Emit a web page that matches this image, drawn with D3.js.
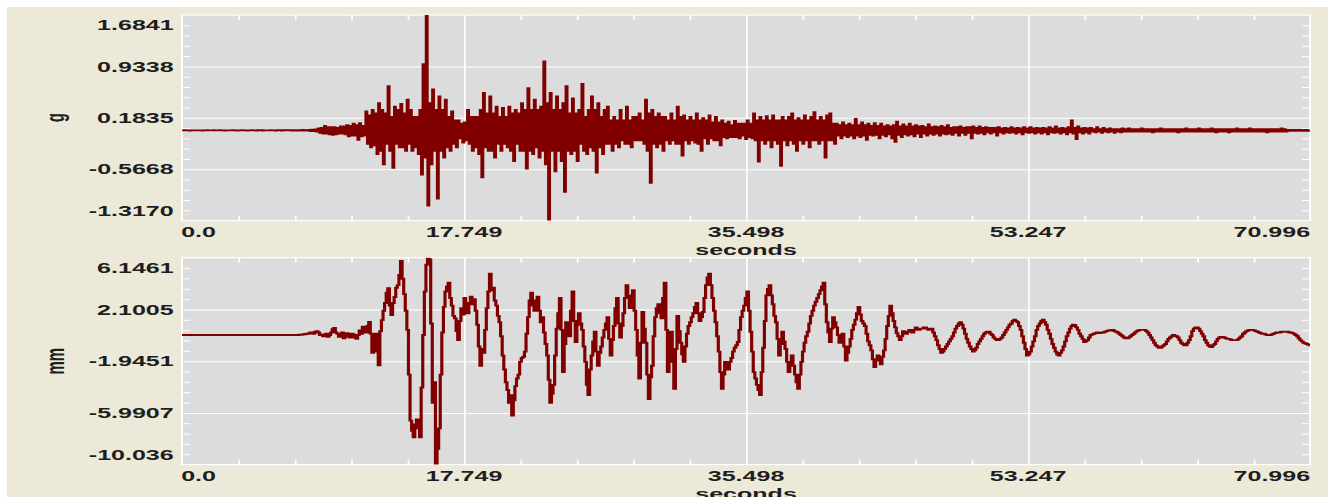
<!DOCTYPE html>
<meta charset="utf-8">
<style>
body {
  margin: 0;
  background: #fff;
}
text {
  font-family: "Liberation Sans", Arial, sans-serif;
  font-weight: bold;
  font-size: 15px;
  fill: #1e1e1e;
}
.domain { display: none; }
</style>
<body>
<script src="https://cdn.jsdelivr.net/npm/d3@7"></script>
<script>

// sample step of both records, seconds
var dt = 0.1;

// acceleration, g (one row = 1 s)
var accel = [
  0.003, -0.004, 0.005, -0.003, 0.004, -0.005, 0.003, -0.004, 0.004, -0.003,
  0.004, -0.003, 0.003, -0.005, 0.004, -0.003, 0.005, -0.004, 0.003, -0.004,
  0.005, -0.004, 0.003, -0.004, 0.005, -0.003, 0.004, -0.006, 0.003, -0.004,
  0.004, -0.003, 0.006, -0.004, 0.003, -0.005, 0.004, -0.003, 0.005, -0.004,
  0.003, -0.005, 0.004, -0.004, 0.005, -0.003, 0.004, -0.005, 0.007, -0.004,
  0.005, -0.006, 0.004, -0.003, 0.003, -0.004, 0.005, -0.004, 0.004, -0.005,
  0.006, -0.004, 0.005, -0.008, 0.005, -0.004, 0.006, -0.004, 0.008, -0.005,
  0.006, -0.007, 0.006, -0.005, 0.007, -0.006, 0.009, -0.008, 0.007, -0.006,
  0.01, -0.012, 0.012, -0.015, 0.018, -0.02, 0.03, -0.04, 0.04, -0.05,
  0.07, -0.05, 0.05, -0.06, 0.05, -0.07, 0.05, -0.06, 0.04, -0.05,
  0.06, -0.05, 0.06, -0.06, 0.08, -0.09, 0.07, -0.08, 0.1, -0.08,
  0.08, -0.14, 0.11, -0.09, 0.07, -0.08, 0.28, -0.2, 0.22, -0.25,
  0.3, -0.22, 0.25, -0.35, 0.4, -0.3, 0.3, -0.5, 0.25, -0.2,
  0.65, -0.3, 0.2, -0.55, 0.35, -0.2, 0.3, -0.25, 0.39, -0.25,
  0.25, -0.3, 0.45, -0.2, 0.3, -0.3, 0.2, -0.25, 0.2, -0.35,
  0.3, -0.65, 0.97, -0.4, 1.68, -1.1, 0.4, -0.5, 0.6, -0.3,
  0.3, -1.0, 0.5, -0.3, 0.3, -0.4, 0.45, -0.25, 0.2, -0.3,
  0.28, -0.2, 0.15, -0.25, 0.15, -0.12, 0.1, -0.18, 0.12, -0.15,
  0.3, -0.2, 0.2, -0.3, 0.2, -0.25, 0.2, -0.35, 0.3, -0.69,
  0.55, -0.25, 0.25, -0.3, 0.5, -0.3, 0.25, -0.4, 0.35, -0.2,
  0.2, -0.3, 0.33, -0.2, 0.2, -0.25, 0.35, -0.3, 0.25, -0.45,
  0.3, -0.2, 0.25, -0.3, 0.4, -0.3, 0.3, -0.56, 0.62, -0.3,
  0.3, -0.35, 0.45, -0.25, 0.3, -0.4, 0.35, -0.3, 1.01, -0.5,
  0.4, -1.32, 0.55, -0.3, 0.3, -0.6, 0.5, -0.3, 0.3, -0.45,
  0.4, -0.9, 0.65, -0.3, 0.25, -0.35, 0.47, -0.3, 0.25, -0.45,
  0.3, -0.2, 0.68, -0.3, 0.2, -0.35, 0.3, -0.25, 0.5, -0.3,
  0.3, -0.62, 0.4, -0.25, 0.2, -0.35, 0.3, -0.2, 0.35, -0.2,
  0.15, -0.3, 0.2, -0.2, 0.15, -0.25, 0.3, -0.15, 0.15, -0.2,
  0.35, -0.2, 0.15, -0.25, 0.2, -0.15, 0.2, -0.15, 0.25, -0.15,
  0.15, -0.2, 0.45, -0.3, 0.25, -0.77, 0.3, -0.2, 0.2, -0.25,
  0.25, -0.2, 0.2, -0.3, 0.2, -0.15, 0.15, -0.2, 0.25, -0.15,
  0.15, -0.2, 0.35, -0.2, 0.2, -0.37, 0.22, -0.15, 0.15, -0.2,
  0.2, -0.15, 0.15, -0.18, 0.25, -0.2, 0.15, -0.3, 0.18, -0.12,
  0.15, -0.2, 0.22, -0.12, 0.12, -0.15, 0.2, -0.15, 0.12, -0.22,
  0.15, -0.1, 0.1, -0.12, 0.13, -0.1, 0.08, -0.1, 0.14, -0.1,
  0.1, -0.12, 0.1, -0.08, 0.1, -0.13, 0.15, -0.1, 0.1, -0.12,
  0.25, -0.15, 0.15, -0.46, 0.2, -0.15, 0.15, -0.2, 0.21, -0.15,
  0.15, -0.25, 0.22, -0.15, 0.15, -0.2, 0.15, -0.52, 0.2, -0.15,
  0.15, -0.22, 0.2, -0.15, 0.25, -0.2, 0.15, -0.3, 0.18, -0.15,
  0.15, -0.2, 0.22, -0.15, 0.15, -0.25, 0.2, -0.15, 0.27, -0.15,
  0.15, -0.2, 0.2, -0.15, 0.15, -0.4, 0.22, -0.15, 0.25, -0.15,
  0.1, -0.2, 0.1, -0.08, 0.08, -0.12, 0.12, -0.08, 0.08, -0.1,
  0.1, -0.08, 0.08, -0.12, 0.17, -0.08, 0.08, -0.1, 0.12, -0.08,
  0.08, -0.14, 0.1, -0.07, 0.07, -0.08, 0.11, -0.07, 0.07, -0.12,
  0.1, -0.07, 0.06, -0.09, 0.08, -0.06, 0.06, -0.12, 0.08, -0.17,
  0.13, -0.07, 0.06, -0.1, 0.09, -0.06, 0.06, -0.08, 0.1, -0.06,
  0.06, -0.09, 0.08, -0.05, 0.06, -0.1, 0.07, -0.05, 0.05, -0.08,
  0.09, -0.05, 0.05, -0.07, 0.06, -0.05, 0.05, -0.08, 0.07, -0.05,
  0.05, -0.06, 0.08, -0.05, 0.04, -0.07, 0.05, -0.04, 0.05, -0.08,
  0.06, -0.04, 0.04, -0.07, 0.05, -0.04, 0.05, -0.12, 0.06, -0.04,
  0.04, -0.05, 0.06, -0.04, 0.04, -0.06, 0.05, -0.03, 0.04, -0.05,
  0.04, -0.03, 0.04, -0.08, 0.05, -0.03, 0.03, -0.05, 0.04, -0.03,
  0.03, -0.04, 0.05, -0.03, 0.03, -0.05, 0.04, -0.03, 0.03, -0.06,
  0.05, -0.03, 0.03, -0.04, 0.05, -0.03, 0.03, -0.05, 0.04, -0.03,
  0.03, -0.05, 0.04, -0.03, 0.03, -0.06, 0.05, -0.03, 0.03, -0.04,
  0.06, -0.03, 0.03, -0.05, 0.04, -0.03, 0.03, -0.06, 0.05, -0.03,
  0.15, -0.05, 0.04, -0.13, 0.06, -0.03, 0.03, -0.05, 0.04, -0.03,
  0.03, -0.05, 0.04, -0.02, 0.02, -0.03, 0.05, -0.02, 0.02, -0.04,
  0.04, -0.02, 0.02, -0.03, 0.03, -0.02, 0.02, -0.04, 0.02, -0.02,
  0.02, -0.03, 0.03, -0.02, 0.02, -0.02, 0.03, -0.02, 0.02, -0.02,
  0.02, -0.02, 0.02, -0.02, 0.03, -0.02, 0.02, -0.02, 0.02, -0.02,
  0.02, -0.03, 0.02, -0.02, 0.02, -0.02, 0.03, -0.02, 0.02, -0.02,
  0.02, -0.02, 0.02, -0.02, 0.02, -0.02, 0.02, -0.03, 0.02, -0.02,
  0.02, -0.02, 0.03, -0.02, 0.02, -0.02, 0.02, -0.02, 0.02, -0.02,
  0.03, -0.02, 0.02, -0.02, 0.02, -0.02, 0.02, -0.02, 0.03, -0.02,
  0.02, -0.03, 0.02, -0.02, 0.02, -0.02, 0.02, -0.02, 0.02, -0.03,
  0.02, -0.02, 0.02, -0.02, 0.03, -0.02, 0.02, -0.02, 0.02, -0.02,
  0.02, -0.02, 0.03, -0.02, 0.02, -0.02, 0.02, -0.02, 0.02, -0.02,
  0.02, -0.02, 0.02, -0.03, 0.02, -0.02, 0.02, -0.02, 0.02, -0.02,
  0.02, -0.02, 0.03, -0.02, 0.02, -0.02, 0.01, -0.01, 0.01, -0.01,
  0.01, -0.01, 0.01, -0.01, 0.01, -0.01, 0.01, -0.01, 0.01, -0.01,
  0
];

// displacement, mm (one row = 1 s)
var disp = [
  0.1, 0.1, 0.1, 0.1, 0.1, 0.1, 0.1, 0.1, 0.1, 0.1,
  0.1, 0.1, 0.1, 0.1, 0.1, 0.1, 0.1, 0.1, 0.1, 0.1,
  0.1, 0.1, 0.1, 0.1, 0.1, 0.1, 0.1, 0.1, 0.1, 0.1,
  0.1, 0.1, 0.1, 0.1, 0.1, 0.1, 0.1, 0.1, 0.1, 0.1,
  0.1, 0.1, 0.1, 0.1, 0.1, 0.1, 0.1, 0.1, 0.1, 0.1,
  0.1, 0.1, 0.1, 0.1, 0.1, 0.1, 0.1, 0.1, 0.1, 0.1,
  0.1, 0.1, 0.1, 0.1, 0.1, 0.1, 0.1, 0.1, 0.1, 0.1,
  0.1, 0.1, 0.1, 0.1, 0.12, 0.12, 0.14, 0.16, 0.18, 0.2,
  0.22, 0.3, 0.28, 0.2, 0.35, 0.4, 0.3, 0.1, 0.15, 0.0,
  0.05, 0.2, -0.04, 0.1, 0.3, 0.55, 0.66, 0.3, 0.2, -0.05,
  0.1, 0.3, -0.15, 0.1, 0.25, -0.05, -0.1, 0.2, 0.15, -0.1,
  -0.2, 0.1, 0.45, 0.2, 0.75, 0.4, 0.3, 0.8, 1.13, 0.2,
  -1.3, -0.5, 0.2, -1.2, -2.26, 0.4, 1.26, 2.0, 2.6, 3.4,
  3.77, 2.4, 1.66, 2.6, 3.07, 3.8, 4.0, 4.8, 5.9, 4.5,
  3.3, 2.0, 0.5, -3.0, -6.6, -7.4, -7.9, -6.9, -6.5, -7.2,
  -7.9, -4.0, 0.1, 3.5, 5.6, 6.1, 6.0, 1.0, -5.2, -3.6,
  -10.0, -8.8, -7.2, -3.0, 0.3, 2.3, 3.5, 3.9, 4.2, 3.0,
  2.4, 1.6, 1.4, 0.4, -0.3, 1.2, 2.2, 1.7, 3.0, 2.1,
  1.8, 2.6, 3.1, 2.5, 2.9, 2.0, 0.9, -0.8, -2.3, -1.0,
  -1.3, 0.5, 2.2, 3.5, 4.9, 3.6, 3.8, 2.8, 2.4, 1.6,
  1.1, 0.0, -1.5, -2.6, -3.6, -4.2, -5.2, -4.6, -6.2, -5.0,
  -3.9, -3.3, -3.0, -2.0, -1.7, -1.6, -1.2, 0.2, 1.5, 2.8,
  3.4, 2.4, 2.0, 2.8, 3.1, 2.0, 1.1, 1.5, 0.3, -0.6,
  -1.5, -3.4, -5.2, -4.5, -3.8, -1.5, 0.6, 1.8, 3.0, 0.5,
  -2.8, -0.6, 1.1, 0.3, 0.0, 2.0, 3.5, 1.2, -0.45, 0.9,
  1.8, 1.0, 0.5, -0.8, -2.0, -3.8, -4.6, -2.6, -1.5, -0.4,
  0.35, -1.2, -2.3, -1.3, -0.8, -0.1, 0.5, 1.0, 1.5, -0.2,
  -1.5, -0.3, 0.8, 2.2, 3.0, 1.0, -0.1, 0.8, 1.8, 3.0,
  4.0, 3.0, 2.2, 3.2, 3.6, 2.0, 0.5, -1.5, -3.3, -0.5,
  1.9, 0.6, -0.5, -3.0, -4.9, -3.2, -2.3, 0.0, 1.5, 2.2,
  2.5, 1.8, 1.4, 3.0, 4.2, 0.5, -2.8, -1.0, 0.35, -2.0,
  -4.1, -1.0, 1.6, 0.4, -0.5, -1.4, -2.0, -0.8, 0.2, 0.8,
  1.1, 1.5, 1.8, 2.3, 2.6, 1.8, 1.2, 1.5, 1.9, 3.0,
  4.0, 4.6, 4.9, 4.0, 3.0, 2.0, 1.1, 0.0, -1.2, -2.8,
  -4.1, -3.0, -2.0, -2.4, -2.6, -2.0, -1.7, -1.2, -0.9, -0.7,
  -0.45, 0.5, 1.5, 2.0, 2.4, 3.0, 3.5, 2.0, 0.35, -1.2,
  -2.8, -3.3, -3.8, -4.2, -4.6, -2.8, -0.9, 1.2, 3.2, 3.7,
  4.0, 3.2, 2.5, 1.6, 1.1, -0.2, -1.5, -0.6, 0.35, -0.4,
  -1.0, -2.0, -2.8, -2.2, -1.5, -2.3, -3.0, -3.6, -4.1, -3.0,
  -2.0, -1.2, -0.5, 0.0, 0.35, 1.0, 1.6, 2.0, 2.4, 2.7,
  3.0, 3.3, 3.6, 3.9, 4.2, 2.5, 1.1, 0.3, -0.45, 0.6,
  1.5, 1.1, 0.7, 0.1, -0.5, -0.1, 0.2, -0.8, -1.9, -1.3,
  -0.8, -0.2, 0.5, 0.9, 1.3, 1.8, 2.3, 1.7, 1.2, 1.0,
  0.8, 0.2, -0.4, -0.7, -1.1, -1.8, -2.4, -1.9, -1.5, -1.8,
  -2.2, -1.6, -1.1, -0.2, 0.8, 1.6, 2.4, 1.8, 1.2, 0.7,
  0.25, 0.0, -0.3, 0.0, 0.4, 0.3, 0.2, 0.35, 0.5, 0.4,
  0.3, 0.5, 0.7, 0.6, 0.5, 0.6, 0.6, 0.7, 0.7, 0.6,
  0.5, 0.5, 0.6, 0.3, 0.0, -0.3, -0.7, -1.0, -1.3, -1.2,
  -1.0, -0.8, -0.6, -0.4, -0.2, 0.0, 0.3, 0.6, 0.8, 1.0,
  1.1, 0.9, 0.6, 0.2, -0.2, -0.5, -0.8, -1.0, -1.2, -1.1,
  -0.9, -0.6, -0.4, -0.2, 0.0, 0.2, 0.3, 0.35, 0.35, 0.2,
  0.1, -0.1, -0.2, -0.3, -0.3, -0.2, -0.1, 0.1, 0.3, 0.5,
  0.7, 0.9, 1.0, 1.2, 1.3, 1.2, 1.1, 0.8, 0.5, 0.0,
  -0.5, -1.0, -1.5, -1.4, -1.2, -0.8, -0.4, 0.0, 0.5, 0.8,
  1.0, 1.2, 1.3, 1.1, 0.9, 0.5, 0.2, -0.2, -0.6, -0.9,
  -1.2, -1.4, -1.5, -1.3, -1.1, -0.8, -0.4, 0.0, 0.3, 0.6,
  0.8, 0.9, 0.87, 0.7, 0.5, 0.2, 0.0, -0.2, -0.45, -0.4,
  -0.3, -0.1, 0.1, 0.15, 0.2, 0.25, 0.3, 0.3, 0.25, 0.3,
  0.3, 0.35, 0.4, 0.45, 0.45, 0.5, 0.5, 0.4, 0.35, 0.3,
  0.2, 0.1, 0.0, -0.1, -0.15, -0.15, -0.1, 0.0, 0.1, 0.2,
  0.3, 0.4, 0.45, 0.5, 0.5, 0.5, 0.5, 0.4, 0.3, 0.1,
  -0.1, -0.3, -0.5, -0.7, -0.8, -0.9, -0.9, -0.8, -0.7, -0.6,
  -0.4, -0.2, -0.1, 0.0, 0.1, 0.05, 0.0, -0.1, -0.3, -0.5,
  -0.6, -0.7, -0.7, -0.5, -0.3, 0.0, 0.4, 0.6, 0.7, 0.7,
  0.6, 0.4, 0.2, 0.0, -0.3, -0.5, -0.7, -0.8, -0.85, -0.7,
  -0.6, -0.4, -0.2, -0.1, -0.05, -0.05, -0.1, -0.15, -0.2, -0.2,
  -0.25, -0.3, -0.3, -0.3, -0.3, -0.2, -0.1, 0.0, 0.2, 0.3,
  0.4, 0.45, 0.5, 0.5, 0.5, 0.45, 0.4, 0.35, 0.3, 0.25,
  0.2, 0.2, 0.15, 0.1, 0.1, 0.1, 0.15, 0.2, 0.25, 0.3,
  0.3, 0.3, 0.35, 0.35, 0.35, 0.35, 0.35, 0.3, 0.3, 0.25,
  0.2, 0.1, 0.0, -0.15, -0.3, -0.4, -0.5, -0.55, -0.6, -0.65,
  -0.7
];

var timeTicks = [0, 17.749, 35.498, 53.247, 70.996];
var timeLabels = ["0.0", "17.749", "35.498", "53.247", "70.996"];
var accelTicks = [-1.3170, -0.5668, 0.1835, 0.9338, 1.6841];
var accelLabels = ["-1.3170", "-0.5668", "0.1835", "0.9338", "1.6841"];
var dispTicks = [-10.036, -5.9907, -1.9451, 2.1005, 6.1461];
var dispLabels = ["-10.036", "-5.9907", "-1.9451", "2.1005", "6.1461"];

// the picture is an 800px wide plot stretched to the window
var W = 800, H = 497;
var left = 109, right = 784.5;

var svg = d3.select("body").append("svg")
    .attr("width", 1336)
    .attr("height", H)
    .attr("viewBox", "0 0 " + W + " " + H)
    .attr("preserveAspectRatio", "none");

svg.append("rect")
    .attr("x", 4.2).attr("y", 7)
    .attr("width", 791).attr("height", H - 7)
    .attr("fill", "#ece9d8");

var x = d3.scaleLinear()
    .domain([0, 70.996])
    .range([left, right]);

function minor(ticks) {
  var out = [];
  for (var i = 0; i < ticks.length - 1; i++) {
    var s = (ticks[i + 1] - ticks[i]) / 5;
    for (var k = 1; k < 5; k++) out.push(ticks[i] + s * k);
  }
  return out;
}

function panel(id, top, bottom, values, ticks, labels, unit, width) {
  var g = svg.append("g");
  var h = bottom - top;

  var y = d3.scaleLinear()
      .domain([ticks[0], ticks[ticks.length - 1]])
      .range([bottom, top]);

  g.append("rect")
      .attr("x", left).attr("y", top)
      .attr("width", right - left).attr("height", h)
      .attr("fill", "#dcdcdc");

  // grid
  g.append("g")
      .attr("transform", "translate(0," + bottom + ")")
      .call(d3.axisBottom(x).tickValues(timeTicks.slice(1, -1)).tickSize(-h).tickFormat(""))
      .selectAll("line").attr("stroke", "#fff").attr("stroke-width", 1);
  g.append("g")
      .attr("transform", "translate(" + left + ",0)")
      .call(d3.axisLeft(y).tickValues(ticks.slice(1, -1)).tickSize(-(right - left)).tickFormat(""))
      .selectAll("line").attr("stroke", "#fff").attr("stroke-width", 1);

  // minor ticks on all four sides
  var mx = minor(timeTicks), my = minor(ticks);
  [[d3.axisBottom(x).tickValues(mx), "translate(0," + bottom + ")"],
   [d3.axisTop(x).tickValues(mx), "translate(0," + top + ")"],
   [d3.axisLeft(y).tickValues(my), "translate(" + left + ",0)"],
   [d3.axisRight(y).tickValues(my), "translate(" + right + ",0)"]
  ].forEach(function(a) {
    g.append("g")
        .attr("transform", a[1])
        .call(a[0].tickSize(-5).tickFormat(""))
        .selectAll("line").attr("stroke", "#fff").attr("stroke-width", 1);
  });

  g.append("rect")
      .attr("x", left).attr("y", top)
      .attr("width", right - left).attr("height", h)
      .attr("fill", "none")
      .attr("stroke", "#fff")
      .attr("stroke-width", 1.2);

  g.append("clipPath").attr("id", "clip" + id)
    .append("rect")
      .attr("x", left).attr("y", top)
      .attr("width", right - left).attr("height", h);

  var line = d3.line()
      .x(function(d, i) { return x(i * dt); })
      .y(function(d) { return y(d); })
      .curve(d3.curveStep);

  g.append("path")
      .datum(values)
      .attr("clip-path", "url(#clip" + id + ")")
      .attr("d", line)
      .attr("fill", "none")
      .attr("stroke", "#800000")
      .attr("stroke-width", width);

  // y labels
  g.append("g").selectAll("text")
    .data(ticks)
    .join("text")
      .attr("x", 104)
      .attr("y", function(d, i) {
        if (i === 0) return bottom - 5;
        if (i === ticks.length - 1) return top + 15.5;
        return y(d) + 5.3;
      })
      .attr("text-anchor", "end")
      .text(function(d, i) { return labels[i]; });

  // x labels
  g.append("g").selectAll("text")
    .data(timeTicks)
    .join("text")
      .attr("x", function(d, i) { return i === 0 ? left - 0.5 : x(d); })
      .attr("y", bottom + 16.5)
      .attr("text-anchor", function(d, i) {
        return i === 0 ? "start" : (i === timeTicks.length - 1 ? "end" : "middle");
      })
      .text(function(d, i) { return timeLabels[i]; });

  g.append("text")
      .attr("x", (left + right) / 2)
      .attr("y", bottom + 34)
      .attr("text-anchor", "middle")
      .text("seconds");

  g.append("text")
      .attr("transform", "translate(33," + ((top + bottom) / 2) + ") rotate(-90)")
      .attr("text-anchor", "middle")
      .attr("dy", "0.35em")
      .text(unit);
}

panel("a", 15, 220.6, accel, accelTicks, accelLabels, "g", 1.4);
panel("d", 257.7, 464.6, disp, dispTicks, dispLabels, "mm", 1.9);

</script>
